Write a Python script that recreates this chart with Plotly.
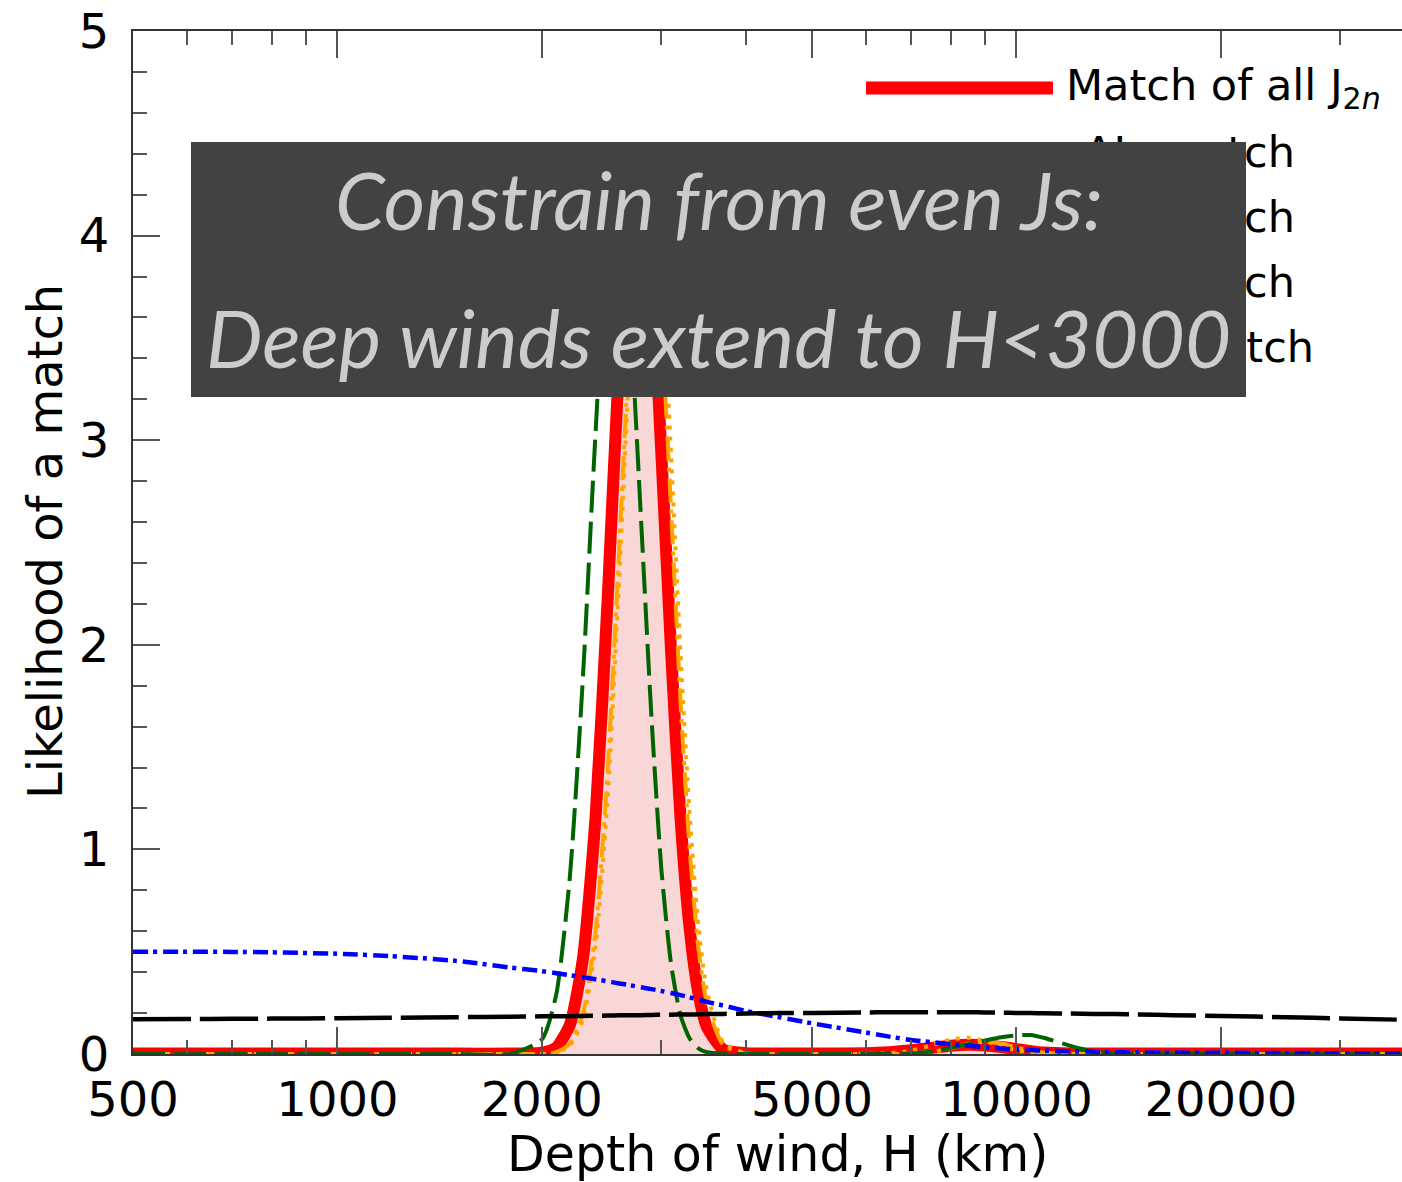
import math
import plotly.graph_objects as go

# ---------------------------------------------------------------- data
depth_km = [500, 600, 700, 800, 1000, 1200, 1500, 1800, 2000, 2100, 2200, 2300,
            2400, 2500, 2600, 2700, 2800, 2900, 3000, 3100, 3200, 3300, 3400, 3500,
            3700, 4000, 4500, 5000, 6000, 6500, 7000, 7500, 8000, 8500, 9000, 9500,
            10000, 10500, 11000, 12000, 13000, 14000, 15000, 17000, 20000, 25000,
            30000, 40000]

# likelihood of matching all even harmonics together
match_all = [0.002, 0.002, 0.002, 0.002, 0.002, 0.002, 0.002, 0.002, 0.006, 0.031,
             0.144, 0.47, 1.16, 2.22, 3.39, 4.21, 4.37, 3.86, 2.93, 1.97, 1.16, 0.62,
             0.30, 0.133, 0.022, 0.004, 0.002, 0.002, 0.004, 0.009, 0.018, 0.030,
             0.040, 0.045, 0.042, 0.034, 0.024, 0.014, 0.007, 0.003, 0.002, 0.002,
             0.002, 0.002, 0.002, 0.002, 0.002, 0.002]

# single-harmonic likelihoods
match_j4 = [0.170, 0.171, 0.172, 0.173, 0.175, 0.177, 0.180, 0.182, 0.184, 0.185,
            0.185, 0.186, 0.187, 0.188, 0.189, 0.189, 0.190, 0.191, 0.192, 0.192,
            0.193, 0.193, 0.194, 0.195, 0.196, 0.198, 0.200, 0.201, 0.203, 0.204,
            0.204, 0.204, 0.204, 0.204, 0.203, 0.202, 0.201, 0.200, 0.199, 0.198,
            0.196, 0.195, 0.193, 0.190, 0.186, 0.180, 0.174, 0.165]

match_j6 = [0.500, 0.500, 0.499, 0.497, 0.490, 0.478, 0.455, 0.422, 0.405, 0.395,
            0.385, 0.375, 0.365, 0.355, 0.345, 0.336, 0.326, 0.317, 0.308, 0.298,
            0.288, 0.277, 0.266, 0.255, 0.237, 0.210, 0.178, 0.150, 0.105, 0.085,
            0.068, 0.058, 0.048, 0.040, 0.033, 0.027, 0.022, 0.019, 0.016, 0.013,
            0.011, 0.009, 0.008, 0.007, 0.006, 0.005, 0.004, 0.003]

match_j8 = [0.0, 0.0, 0.0, 0.0, 0.0, 0.0, 0.0, 0.001, 0.071, 0.29, 0.87, 1.85,
            3.04, 3.94, 4.12, 3.57, 2.61, 1.65, 0.90, 0.44, 0.19, 0.077, 0.028,
            0.009, 0.002, 0.0, 0.0, 0.0, 0.0, 0.001, 0.003, 0.012, 0.030, 0.048,
            0.066, 0.082, 0.091, 0.093, 0.078, 0.040, 0.012, 0.004, 0.001, 0.0,
            0.0, 0.0, 0.0, 0.0]

match_j10 = [0.0, 0.0, 0.0, 0.0, 0.0, 0.0, 0.0, 0.0, 0.001, 0.007, 0.041, 0.17,
             0.53, 1.25, 2.32, 3.46, 4.24, 4.36, 3.83, 2.93, 1.96, 1.18, 0.63, 0.31,
             0.057, 0.003, 0.0, 0.0, 0.001, 0.004, 0.016, 0.043, 0.071, 0.079,
             0.064, 0.038, 0.018, 0.007, 0.002, 0.0, 0.0, 0.0, 0.0, 0.0, 0.0, 0.0,
             0.0, 0.0]

match_j10_alt = [0.0, 0.0, 0.0, 0.0, 0.0, 0.0, 0.0, 0.0, 0.0, 0.009, 0.05, 0.20,
                 0.60, 1.38, 2.47, 3.56, 4.22, 4.21, 3.58, 2.66, 1.73, 1.01, 0.52,
                 0.25, 0.044, 0.002, 0.0, 0.0, 0.0, 0.0, 0.002, 0.010, 0.028, 0.050,
                 0.060, 0.051, 0.032, 0.016, 0.006, 0.001, 0.0, 0.0, 0.0, 0.0, 0.0,
                 0.0, 0.0, 0.0]

x_tick_vals = [500, 1000, 2000, 5000, 10000, 20000]
x_tick_text = ["500", "1000", "2000", "5000", "10000", "20000"]
x_minor_vals = [600, 700, 800, 900, 3000, 4000, 6000, 7000, 8000, 9000, 30000]
y_tick_vals = [0, 1, 2, 3, 4, 5]
y_tick_text = ["0", "1", "2", "3", "4", "5"]

legend_labels = ["Match of all J<sub>2<i>n</i></sub>",
                 "ΔJ<sub>4</sub> match", "ΔJ<sub>6</sub> match",
                 "ΔJ<sub>8</sub> match", "ΔJ<sub>10</sub> match"]

# ---------------------------------------------------------------- figure geometry
W, H = 1402, 1182
L, R, T, B = 133, 0, 31, 128
PW, PH = W - L - R, H - T - B


def px(x):
    """pixel column -> paper x"""
    return (x - L) / PW


def py(y):
    """pixel row -> paper y"""
    return (H - B - y) / PH


FONT = "DejaVu Sans"
ORANGE = "#ffa500"
GREEN = "#006400"

fig = go.Figure()

fig.add_trace(go.Scatter(
    x=depth_km, y=match_all, name="Match of all J2n", mode="lines",
    line=dict(color="#ff0000", width=12, shape="spline", smoothing=0.6),
    fill="tozeroy", fillcolor="rgba(240,150,150,0.38)"))
fig.add_trace(go.Scatter(
    x=depth_km, y=match_j10_alt, name="ΔJ10 match (dash-dot)", mode="lines",
    line=dict(color=ORANGE, width=4, dash="24px,7px,4px,7px", shape="spline", smoothing=0.6)))
fig.add_trace(go.Scatter(
    x=depth_km, y=match_j10, name="ΔJ10 match", mode="lines",
    line=dict(color=ORANGE, width=4, dash="4px,7px", shape="spline", smoothing=0.6)))
fig.add_trace(go.Scatter(
    x=depth_km, y=match_j8, name="ΔJ8 match", mode="lines",
    line=dict(color=GREEN, width=4, dash="32px,9px", shape="spline", smoothing=0.6)))
fig.add_trace(go.Scatter(
    x=depth_km, y=match_j6, name="ΔJ6 match", mode="lines",
    line=dict(color="#0000ff", width=4.5, dash="15px,5px,4px,6px", shape="spline", smoothing=0.6)))
fig.add_trace(go.Scatter(
    x=depth_km, y=match_j4, name="ΔJ4 match", mode="lines",
    line=dict(color="#000000", width=4.5, dash="58px,9px", shape="spline", smoothing=0.6)))

axis_line = "#333333"
tick_col = "#555555"

fig.update_layout(
    width=W, height=H,
    margin=dict(l=L, r=R, t=T, b=B, pad=0),
    paper_bgcolor="white", plot_bgcolor="white",
    showlegend=False,
    font=dict(family=FONT, color="black"),
    xaxis=dict(
        type="log", range=[math.log10(500), math.log10(36960)],
        tickmode="array", tickvals=x_tick_vals, ticktext=x_tick_text,
        ticks="inside", ticklen=27, tickwidth=2, tickcolor=tick_col,
        minor=dict(tickmode="array", tickvals=x_minor_vals, ticks="inside",
                   ticklen=14, tickwidth=2, tickcolor=tick_col, showgrid=False),
        showline=True, linecolor=axis_line, linewidth=2, mirror="ticks",
        showgrid=False, zeroline=False,
        tickfont=dict(family=FONT, size=48, color="black"),
        ticklabelstandoff=2,
    ),
    yaxis=dict(
        range=[0, 5], tickmode="array", tickvals=y_tick_vals, ticktext=y_tick_text,
        ticks="inside", ticklen=27, tickwidth=2, tickcolor=tick_col,
        minor=dict(dtick=0.2, ticks="inside", ticklen=14, tickwidth=2,
                   tickcolor=tick_col, showgrid=False),
        showline=True, linecolor=axis_line, linewidth=2,
        showgrid=False, zeroline=False,
        tickfont=dict(family=FONT, size=48, color="black"),
        ticklabelstandoff=12,
    ),
    yaxis2=dict(
        overlaying="y", side="right", anchor="x", range=[0, 5],
        tickmode="array", tickvals=y_tick_vals, ticks="inside", ticklen=9,
        tickwidth=2, tickcolor=tick_col, showticklabels=False,
        showline=False, showgrid=False, zeroline=False,
    ),
)

# ---------------------------------------------------------------- legend (drawn by hand)
legend_rows = [88, 155, 220, 285, 350]
legend_styles = [
    dict(color="#ff0000", width=13),
    dict(color="#000000", width=4, dash="dash"),
    dict(color="#0000ff", width=4, dash="dashdot"),
    dict(color=GREEN, width=4, dash="dash"),
    dict(color=ORANGE, width=4, dash="dot"),
]
shapes = []
for row, style in zip(legend_rows, legend_styles):
    shapes.append(dict(type="line", xref="paper", yref="paper", layer="above",
                       x0=px(866), x1=px(1053), y0=py(row), y1=py(row), line=style))
fig.update_layout(shapes=shapes)

annotations = []
label_right = [None, 1297, 1297, 1297, 1316]
for i, (row, text) in enumerate(zip(legend_rows, legend_labels)):
    if i == 0:
        annotations.append(dict(x=px(1064), y=py(row), xref="paper", yref="paper",
                                text=text, showarrow=False, xanchor="left",
                                yanchor="middle", font=dict(family=FONT, size=43, color="black")))
    else:
        annotations.append(dict(x=px(label_right[i]), y=py(row), xref="paper", yref="paper",
                                text=text, showarrow=False, xanchor="right",
                                yanchor="middle", font=dict(family=FONT, size=43, color="black")))

# overlay message box
annotations.append(dict(x=px(718.5), y=py(269.5), xref="paper", yref="paper",
                        text=" ", showarrow=False, xanchor="center", yanchor="middle",
                        width=1055, height=255, bgcolor="#424242", borderwidth=0,
                        borderpad=0, font=dict(size=10, color="#424242")))
box_font = dict(family="Lato", size=80, color="#cccccc", style="italic")
annotations.append(dict(x=px(718.5), y=py(199), xref="paper", yref="paper",
                        text="Constrain from even Js:", showarrow=False,
                        xanchor="center", yanchor="middle", font=box_font))
annotations.append(dict(x=px(718.5), y=py(337), xref="paper", yref="paper",
                        text="Deep winds extend to H&lt;3000", showarrow=False,
                        xanchor="center", yanchor="middle", font=box_font))

# axis titles
annotations.append(dict(x=px(777), y=py(1154), xref="paper", yref="paper",
                        text="Depth of wind, H (km)", showarrow=False,
                        xanchor="center", yanchor="middle",
                        font=dict(family=FONT, size=49, color="black")))
annotations.append(dict(x=px(45), y=py(542), xref="paper", yref="paper",
                        text="Likelihood of a match", showarrow=False, textangle=-90,
                        xanchor="center", yanchor="middle",
                        font=dict(family=FONT, size=48, color="black")))
fig.update_layout(annotations=annotations)

fig.write_html("out.html")
